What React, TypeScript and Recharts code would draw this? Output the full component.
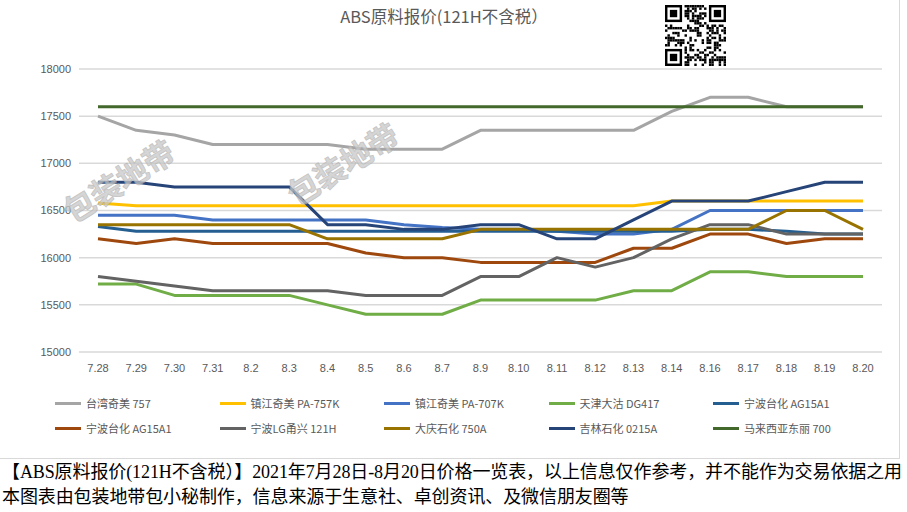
import React from "react";
import { CartesianGrid, Line, LineChart, XAxis, YAxis } from "recharts";

const dates = ["7.28", "7.29", "7.30", "7.31", "8.2", "8.3", "8.4", "8.5", "8.6", "8.7", "8.9", "8.10", "8.11", "8.12", "8.13", "8.14", "8.16", "8.17", "8.18", "8.19", "8.20"];

const taiwanChimei757 = [17500, 17350, 17300, 17200, 17200, 17200, 17200, 17150, 17150, 17150, 17350, 17350, 17350, 17350, 17350, 17550, 17700, 17700, 17600, 17600, 17600];
const zhenjiang757K = [16580, 16550, 16550, 16550, 16550, 16550, 16550, 16550, 16550, 16550, 16550, 16550, 16550, 16550, 16550, 16600, 16600, 16600, 16600, 16600, 16600];
const zhenjiang707K = [16450, 16450, 16450, 16400, 16400, 16400, 16400, 16400, 16350, 16320, 16300, 16300, 16280, 16250, 16250, 16300, 16500, 16500, 16500, 16500, 16500];
const tianjinDG417 = [15720, 15720, 15600, 15600, 15600, 15600, 15500, 15400, 15400, 15400, 15550, 15550, 15550, 15550, 15650, 15650, 15850, 15850, 15800, 15800, 15800];
const ningboFormosaBlue = [16330, 16280, 16280, 16280, 16280, 16280, 16280, 16280, 16280, 16280, 16280, 16280, 16280, 16280, 16280, 16280, 16300, 16300, 16280, 16250, 16250];
const ningboFormosaBrown = [16200, 16150, 16200, 16150, 16150, 16150, 16150, 16050, 16000, 16000, 15950, 15950, 15950, 15950, 16100, 16100, 16250, 16250, 16150, 16200, 16200];
const ningboLG121H = [15800, 15750, 15700, 15650, 15650, 15650, 15650, 15600, 15600, 15600, 15800, 15800, 16000, 15900, 16000, 16200, 16350, 16350, 16250, 16250, 16250];
const daqing750A = [16350, 16350, 16350, 16350, 16350, 16350, 16200, 16200, 16200, 16200, 16300, 16300, 16300, 16300, 16300, 16300, 16300, 16300, 16500, 16500, 16300];
const jilin0215A = [16800, 16800, 16750, 16750, 16750, 16750, 16350, 16350, 16300, 16300, 16350, 16350, 16200, 16200, 16400, 16600, 16600, 16600, 16700, 16800, 16800];
const malaysiaToray700 = [17600, 17600, 17600, 17600, 17600, 17600, 17600, 17600, 17600, 17600, 17600, 17600, 17600, 17600, 17600, 17600, 17600, 17600, 17600, 17600, 17600];

const yTicks = [15000, 15500, 16000, 16500, 17000, 17500, 18000];

const series = [
  { key: "s1", name: "台湾奇美 757", color: "#A5A5A5", values: taiwanChimei757 },
  { key: "s2", name: "镇江奇美 PA-757K", color: "#FFC000", values: zhenjiang757K },
  { key: "s3", name: "镇江奇美 PA-707K", color: "#4472C4", values: zhenjiang707K },
  { key: "s4", name: "天津大沽 DG417", color: "#70AD47", values: tianjinDG417 },
  { key: "s5", name: "宁波台化 AG15A1", color: "#255E91", values: ningboFormosaBlue },
  { key: "s6", name: "宁波台化 AG15A1", color: "#9E480E", values: ningboFormosaBrown },
  { key: "s7", name: "宁波LG甬兴 121H", color: "#636363", values: ningboLG121H },
  { key: "s8", name: "大庆石化 750A", color: "#997300", values: daqing750A },
  { key: "s9", name: "吉林石化 0215A", color: "#264478", values: jilin0215A },
  { key: "s10", name: "马来西亚东丽 700", color: "#43682B", values: malaysiaToray700 },
];

const rows = dates.map((date, i) => {
  const row: Record<string, string | number> = { date };
  series.forEach((s) => (row[s.key] = s.values[i]));
  return row;
});

const sans = '"Liberation Sans", "Noto Sans CJK SC", sans-serif';
const cjk = '"Noto Sans CJK SC", "Liberation Sans", sans-serif';

// rough QR-looking block, decoration only
function QrBlock({ x, y, size }: { x: number; y: number; size: number }) {
  const n = 25;
  const m = size / n;
  const cells: React.ReactNode[] = [];
  const inFinder = (r: number, c: number) => (r < 8 && c < 8) || (r < 8 && c >= n - 8) || (r >= n - 8 && c < 8);
  for (let r = 0; r < n; r++) {
    for (let c = 0; c < n; c++) {
      if (inFinder(r, c)) continue;
      const h = ((r * 2654435761) ^ (c * 40503) ^ (r * c * 97)) >>> 0;
      if (h % 100 < 48) cells.push(<rect key={r + "-" + c} x={c * m} y={r * m} width={m} height={m} fill="#000" />);
    }
  }
  const finder = (fx: number, fy: number) => (
    <g key={fx + "f" + fy}>
      <rect x={fx * m} y={fy * m} width={7 * m} height={7 * m} fill="#000" />
      <rect x={(fx + 1) * m} y={(fy + 1) * m} width={5 * m} height={5 * m} fill="#fff" />
      <rect x={(fx + 2) * m} y={(fy + 2) * m} width={3 * m} height={3 * m} fill="#000" />
    </g>
  );
  return (
    <svg style={{ position: "absolute", left: x, top: y }} width={size} height={size}>
      <rect width={size} height={size} fill="#fff" />
      {cells}
      {finder(0, 0)}
      {finder(n - 7, 0)}
      {finder(0, n - 7)}
    </svg>
  );
}

export default function App() {
  return (
    <div style={{ position: "absolute", left: 0, top: 0, width: 907, height: 512, background: "#fff", overflow: "hidden" }}>
      <div style={{ position: "absolute", left: 0, top: 0, width: 899, height: 458, borderRight: "1px solid #D9D9D9", borderBottom: "1px solid #D9D9D9" }} />
      <div style={{ position: "absolute", left: 244, top: 4, width: 400, textAlign: "center", fontFamily: cjk, fontSize: 16.5, color: "#595959" }}>
        ABS原料报价(121H不含税）
      </div>
      <QrBlock x={665} y={5} size={61} />
      <div style={{ position: "absolute", left: 0, top: 0 }}>
        <LineChart width={907} height={390} data={rows} margin={{ top: 69, right: 25, bottom: 8, left: 0 }}>
          <CartesianGrid vertical={false} stroke="#D9D9D9" strokeWidth={1.5} />
          <XAxis
            dataKey="date"
            interval={0}
            tickLine={false}
            axisLine={false}
            padding={{ left: 19, right: 19 }}
            tickMargin={6}
            tick={{ fill: "#595959", fontSize: 11, fontFamily: sans }}
          />
          <YAxis
            domain={[15000, 18000]}
            ticks={yTicks}
            width={79}
            tickLine={false}
            axisLine={false}
            tick={{ fill: "#595959", fontSize: 11, fontFamily: sans }}
          />
          {series.map((s) => (
            <Line
              key={s.key}
              type="linear"
              dataKey={s.key}
              name={s.name}
              stroke={s.color}
              strokeWidth={3}
              dot={false}
              strokeLinejoin="round"
              isAnimationActive={false}
            />
          ))}
        </LineChart>
      </div>
      <svg style={{ position: "absolute", left: 0, top: 0, pointerEvents: "none" }} width={907} height={390}>
        {[
          [118, 180],
          [342, 163],
        ].map(([cx, cy], i) => (
          <text
            key={i}
            x={cx}
            y={cy}
            textAnchor="middle"
            dominantBaseline="central"
            transform={`rotate(-32 ${cx} ${cy})`}
            fontFamily={cjk}
            fontWeight="bold"
            fontSize={31}
            fill="#C8C8C8"
            stroke="#B0B0B0"
            strokeWidth={0.8}
            opacity={0.75}
          >
            包装地带
          </text>
        ))}
      </svg>
      {series.map((s, i) => {
        const col = i % 5;
        const row = Math.floor(i / 5);
        return (
          <div key={s.key} style={{ position: "absolute", left: 55 + col * 164.5, top: 395 + row * 25, height: 16, display: "flex", alignItems: "center", whiteSpace: "nowrap" }}>
            <div style={{ width: 26, height: 3, background: s.color, marginRight: 5 }} />
            <span style={{ fontFamily: cjk, fontSize: 11, color: "#595959" }}>{s.name}</span>
          </div>
        );
      })}
      <div style={{ position: "absolute", left: 2, top: 460, fontFamily: '"Liberation Serif", "Noto Sans CJK SC", serif', fontSize: 18, lineHeight: "25px", letterSpacing: -0.1, color: "#000", whiteSpace: "nowrap" }}>
        <div>【ABS原料报价(121H不含税）】2021年7月28日-8月20日价格一览表，以上信息仅作参考，并不能作为交易依据之用</div>
        <div>本图表由包装地带包小秘制作，信息来源于生意社、卓创资讯、及微信朋友圈等</div>
      </div>
    </div>
  );
}
